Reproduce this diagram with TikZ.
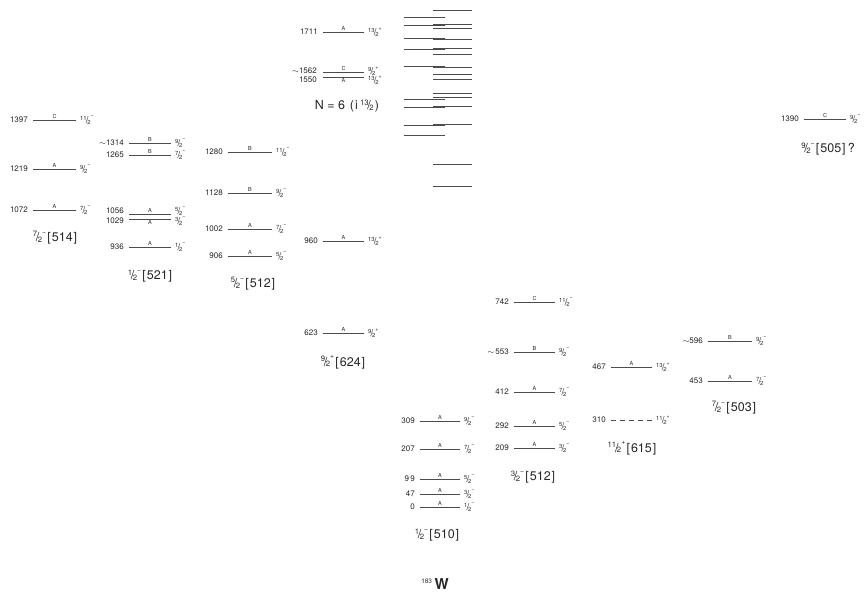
\documentclass[tikz,border=0pt]{standalone}
\usepackage{fontspec}
\setmainfont{TeX Gyre Heros}
\usepackage{graphicx}
\usetikzlibrary{positioning,calc}
\tikzset{
    levelline/.style={draw=black!70,line width=0.7pt},
    energy/.style={inner sep=0pt,anchor=east,text=black!85,font=\fontsize{8}{9}\selectfont},
    spin/.style={inner sep=0pt,anchor=west,text=black!85,font=\fontsize{9.5}{10}\selectfont},
    letter/.style={inner sep=0pt,anchor=south,yshift=1pt,text=black!85,font=\fontsize{5.5}{6}\selectfont},
    letterbelow/.style={inner sep=0pt,anchor=north,yshift=-1pt,text=black!85,font=\fontsize{5.5}{6}\selectfont},
    band/.style={inner sep=0pt,text=black!85,font=\fontsize{12.5}{14}\selectfont},
}
% spin fraction  num/2 with parity
\newcommand{\jfr}[2]{\raisebox{.38em}{\scalebox{.62}{#1}}\kern-.1em/\kern-.12em\raisebox{-.05em}{\scalebox{.62}{2}}\raisebox{.6em}{\scalebox{.55}{#2}}}
% Nilsson label
\newcommand{\nil}[1]{\kern.1em[\kern.08em#1\kern.08em]}
% one level: name, x left, x right, y, energy, letter, spin
\newcommand{\lvl}[7]{%
  \coordinate (#1w) at (#2,#4);
  \coordinate (#1e) at (#3,#4);
  \draw[levelline] (#1w) -- (#1e);
  \node[energy,left=5pt of #1w] (#1E) {#5};
  \node[letter] (#1K) at ($(#1w)!0.5!(#1e)$) {#6};
  \node[spin,right=4pt of #1e] (#1J) {#7};
}
\begin{document}
\begin{tikzpicture}[x=1pt,y=-1pt]
    \useasboundingbox (0,0) rectangle (867,599);

    % 7/2- [514]
    \lvl{a1397}{33}{76}{120}{1397}{C}{\jfr{11}{−}}
    \lvl{a1219}{33}{76}{169}{1219}{A}{\jfr{9}{−}}
    \lvl{a1072}{33}{76}{210}{1072}{A}{\jfr{7}{−}}
    \node[band] (b514) at (55,238) {\jfr{7}{−}\nil{514}};

    % 1/2- [521]
    \lvl{b1314}{129}{171}{143}{$\sim$1314}{B}{\jfr{9}{−}}
    \lvl{b1265}{129}{171}{155}{1265}{B}{\jfr{7}{−}}
    \coordinate (b1056w) at (129,214);
    \coordinate (b1056e) at (171,214);
    \coordinate (b1029w) at (129,219);
    \coordinate (b1029e) at (171,219);
    \draw[levelline] (b1056w) -- (b1056e);
    \draw[levelline] (b1029w) -- (b1029e);
    \node[letter] (b1056K) at ($(b1056w)!0.5!(b1056e)$) {A};
    \node[letterbelow] (b1029K) at ($(b1029w)!0.5!(b1029e)$) {A};
    \node[energy] (b1056E) at (124,211) {1056};
    \node[energy] (b1029E) at (124,221) {1029};
    \node[spin] (b1056J) at (175,211) {\jfr{5}{−}};
    \node[spin] (b1029J) at (175,221) {\jfr{3}{−}};
    \lvl{b936}{129}{171}{247}{936}{A}{\jfr{1}{−}}
    \node[band] (b521) at (150,276) {\jfr{1}{−}\nil{521}};

    % 5/2- [512]
    \lvl{c1280}{228}{272}{152}{1280}{B}{\jfr{11}{−}}
    \lvl{c1128}{228}{272}{193}{1128}{B}{\jfr{9}{−}}
    \lvl{c1002}{228}{272}{229}{1002}{A}{\jfr{7}{−}}
    \lvl{c906}{228}{272}{256}{906}{A}{\jfr{5}{−}}
    \node[band] (b512a) at (253,284) {\jfr{5}{−}\nil{512}};

    % N = 6 (i13/2)
    \lvl{d1711}{323}{364}{32}{1711}{A}{\jfr{13}{+}}
    \coordinate (d1562w) at (323,72);
    \coordinate (d1562e) at (364,72);
    \coordinate (d1550w) at (323,77);
    \coordinate (d1550e) at (364,77);
    \draw[levelline] (d1562w) -- (d1562e);
    \draw[levelline] (d1550w) -- (d1550e);
    \node[letter] (d1562K) at ($(d1562w)!0.5!(d1562e)$) {C};
    \node[letterbelow] (d1550K) at ($(d1550w)!0.5!(d1550e)$) {A};
    \node[energy] (d1562E) at (317,71) {$\sim$1562};
    \node[energy] (d1550E) at (317,80) {1550};
    \node[spin] (d1562J) at (368,71) {\jfr{9}{+}};
    \node[spin] (d1550J) at (368,80) {\jfr{13}{+}};
    \node[band] (bN6) at (347,106) {N = 6 \kern.1em(\kern.1em i\,\jfr{13}{}\kern.1em)};

    % 9/2+ [624]
    \lvl{e960}{323}{364}{241}{960}{A}{\jfr{13}{+}}
    \lvl{e623}{323}{364}{333}{623}{A}{\jfr{9}{+}}
    \node[band] (b624) at (343,362) {\jfr{9}{+}\nil{624}};

    % Nilsson levels, N = 6
    \foreach \y [count=\i] in {17,25,38,49,66,99,107,125,135} {
        \coordinate (nl\i) at (404,\y);
        \coordinate (nr\i) at (445,\y);
        \draw[levelline] (nl\i) -- (nr\i);
    }
    \foreach \y [count=\i] in {10,24,28,39,48,54,67,74,79,93,97,106,124,164,186} {
        \coordinate (ml\i) at (433,\y);
        \coordinate (mr\i) at (472,\y);
        \draw[levelline] (ml\i) -- (mr\i);
    }

    % 1/2- [510]
    \lvl{f309}{420}{460}{421}{309}{A}{\jfr{9}{−}}
    \lvl{f207}{420}{460}{449}{207}{A}{\jfr{7}{−}}
    \lvl{f99}{420}{460}{479}{9\,9}{A}{\jfr{5}{−}}
    \lvl{f47}{420}{460}{494}{47}{A}{\jfr{3}{−}}
    \lvl{f0}{420}{460}{507}{0}{A}{\jfr{1}{−}}
    \node[band] (b510) at (437,535) {\jfr{1}{−}\nil{510}};

    % 3/2- [512]
    \lvl{g742}{514}{555}{302}{742}{C}{\jfr{11}{−}}
    \lvl{g553}{514}{555}{352}{$\sim$\,553}{B}{\jfr{9}{−}}
    \lvl{g412}{514}{555}{392}{412}{A}{\jfr{7}{−}}
    \lvl{g292}{514}{555}{426}{292}{A}{\jfr{5}{−}}
    \lvl{g209}{514}{555}{448}{209}{A}{\jfr{3}{−}}
    \node[band] (b512b) at (533,477) {\jfr{3}{−}\nil{512}};

    % 11/2+ [615]
    \lvl{h467}{611}{652}{367}{467}{A}{\jfr{13}{+}}
    \coordinate (h310w) at (611,420);
    \coordinate (h310e) at (652,420);
    \draw[levelline,dash pattern=on 5pt off 4pt] (h310w) -- (h310e);
    \node[energy,left=5pt of h310w] (h310E) {310};
    \node[spin,right=4pt of h310e] (h310J) {\jfr{11}{+}};
    \node[band] (b615) at (632,448) {\jfr{11}{+}\nil{615}};

    % 7/2- [503]
    \lvl{k596}{708}{752}{341}{$\sim$596}{B}{\jfr{9}{−}}
    \lvl{k453}{708}{752}{381}{453}{A}{\jfr{7}{−}}
    \node[band] (b503) at (734,408) {\jfr{7}{−}\nil{503}};

    % 9/2- [505] ?
    \lvl{m1390}{804}{846}{119}{1390}{C}{\jfr{9}{−}}
    \node[band] (b505) at (828,149) {\jfr{9}{−}\nil{505}\,?};

    \node[inner sep=0pt,text=black!85,font=\fontsize{15}{17}\selectfont] (nucl) at (435,584) {\raisebox{.4em}{\fontsize{6.5}{7}\selectfont 183}\,\textbf{W}};
\end{tikzpicture}
\end{document}
